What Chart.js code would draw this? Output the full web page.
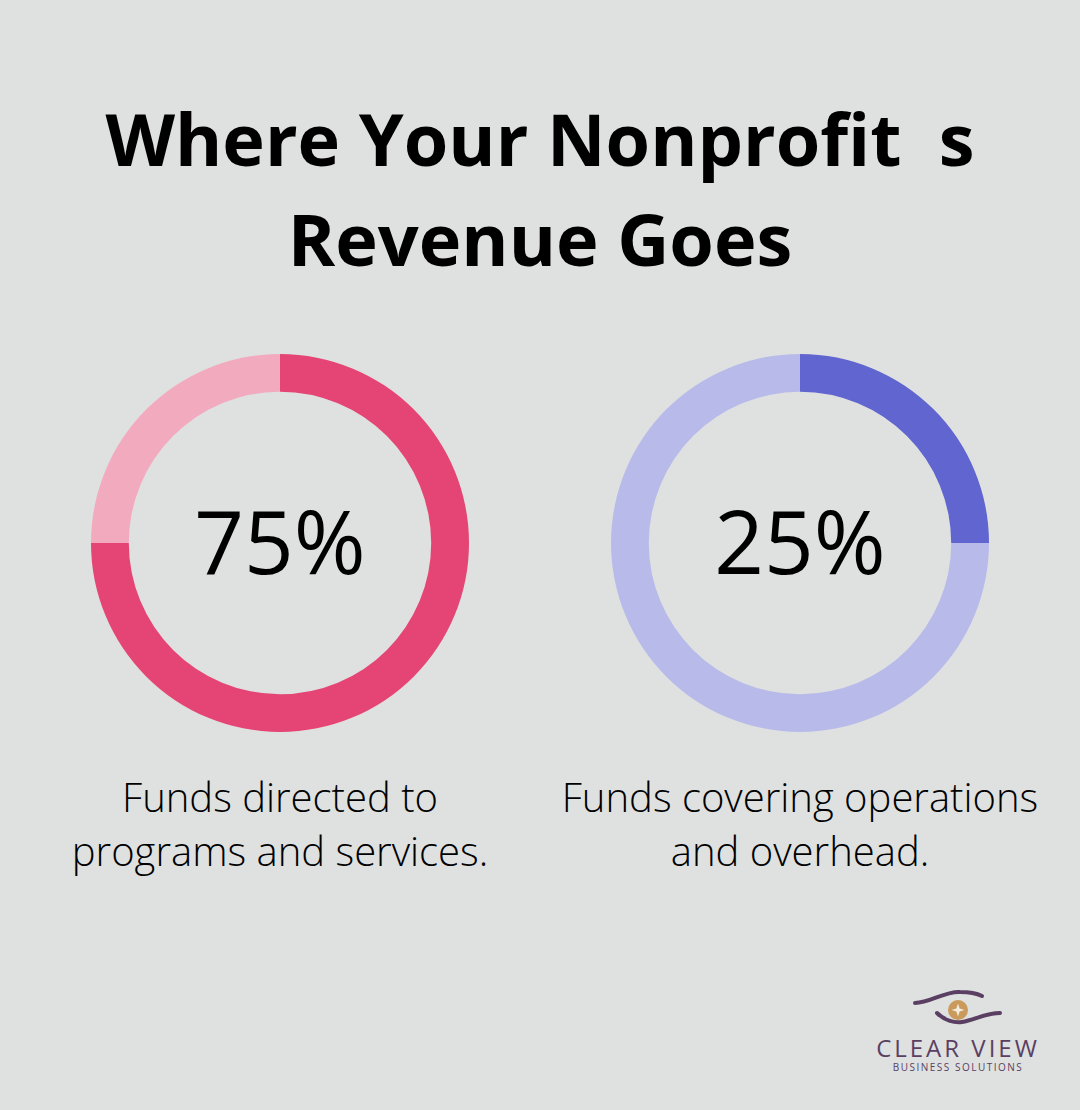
<!DOCTYPE html>
<html>
<head>
<meta charset="utf-8">
<script src="https://cdn.jsdelivr.net/npm/chart.js@4.4.1/dist/chart.umd.min.js"></script>
<style>
  html, body { margin: 0; padding: 0; }
  body {
    width: 1080px; height: 1110px; background: #dfe1e0;
    position: relative; overflow: hidden;
    font-family: "Open Sans", sans-serif; color: #000;
  }
  .title {
    position: absolute; left: 0; top: 88px; width: 1080px;
    text-align: center; font-weight: 700; font-size: 72px; line-height: 100px;
  }
  .ring { position: absolute; width: 378px; height: 378px; }
  .big {
    position: absolute; width: 378px; text-align: center;
    font-size: 87px; line-height: 100px; font-weight: 500;
  }
  .cap {
    position: absolute; width: 540px; text-align: center;
    font-size: 40px; line-height: 54px; font-weight: 300;
  }
  .logo { position: absolute; left: 860px; top: 985px; width: 200px; }
  .logo .name {
    position: absolute; left: -2px; top: 46px; width: 200px; text-align: center;
    font-size: 24px; letter-spacing: 3px; color: #5a3f63; font-weight: 500;
  }
  .logo .sub {
    position: absolute; left: -2px; top: 75px; width: 200px; text-align: center;
    font-size: 10px; letter-spacing: 1.5px; color: #5a3f63;
  }
</style>
</head>
<body>
<div class="title">Where Your Nonprofit&nbsp;&nbsp;s<br>Revenue Goes</div>

<div class="ring" style="left:91px; top:354px;"><canvas id="donut1" width="378" height="378"></canvas></div>
<div class="big" style="left:91px; top:490px;" id="big1"></div>
<div class="cap" style="left:10px; top:770px;" id="cap1"></div>

<div class="ring" style="left:611px; top:354px;"><canvas id="donut2" width="378" height="378"></canvas></div>
<div class="big" style="left:611px; top:490px;" id="big2"></div>
<div class="cap" style="left:530px; top:770px;" id="cap2"></div>

<div class="logo">
  <svg width="200" height="50" viewBox="0 0 200 50">
    <path d="M55 18 C 70 18, 85 6, 100 7 C 110 7, 118 9, 122 11" stroke="#5a3f63" stroke-width="4" fill="none" stroke-linecap="round"/>
    <path d="M77 28 C 85 36, 95 38, 102 37 C 115 35, 125 28, 140 28" stroke="#5a3f63" stroke-width="4" fill="none" stroke-linecap="round"/>
    <circle cx="98" cy="25" r="10" fill="#c99a5b"/>
    <path d="M98 18.5 L99.6 23.4 L104.5 25 L99.6 26.6 L98 31.5 L96.4 26.6 L91.5 25 L96.4 23.4 Z" fill="#f4ece0"/>
  </svg>
  <div class="name">CLEAR VIEW</div>
  <div class="sub">BUSINESS SOLUTIONS</div>
</div>

<script>
const shares = [75, 25];
const segmentLabels = ['Share', 'Rest'];
const captions = [
  ['Funds directed to', 'programs and services.'],
  ['Funds covering operations', 'and overhead.']
];
const darkColors = ['#e54575', '#6065cf'];
const lightColors = ['#f2aabf', '#b8bbe9'];

shares.forEach((share, i) => {
  const ctx = document.getElementById('donut' + (i + 1)).getContext('2d');
  new Chart(ctx, {
    type: 'doughnut',
    data: {
      labels: segmentLabels,
      datasets: [{
        data: [share, 100 - share],
        backgroundColor: [darkColors[i], lightColors[i]],
        borderWidth: 0,
        hoverOffset: 0
      }]
    },
    options: {
      responsive: false,
      animation: false,
      cutout: '80%',
      rotation: 0,
      layout: { padding: 0 },
      plugins: { legend: { display: false }, tooltip: { enabled: false } }
    }
  });
  document.getElementById('big' + (i + 1)).textContent = share + '%';
  document.getElementById('cap' + (i + 1)).innerHTML = captions[i].join('<br>');
});
</script>
</body>
</html>
